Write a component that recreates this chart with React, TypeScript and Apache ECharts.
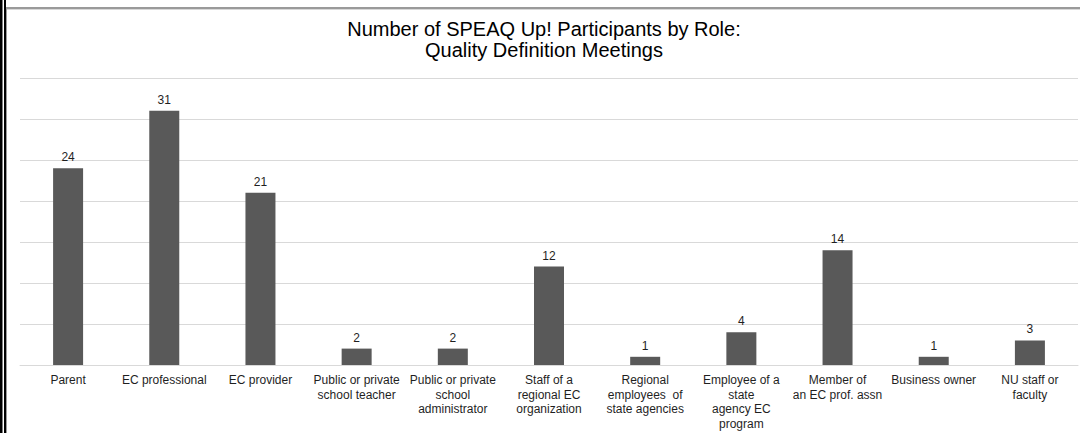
import React, { useEffect, useRef } from "react";
import * as echarts from "echarts";

const titleText = "Number of SPEAQ Up! Participants by Role:\nQuality Definition Meetings";
const categories = [
  "Parent",
  "EC professional",
  "EC provider",
  "Public or private\nschool teacher",
  "Public or private\nschool\nadministrator",
  "Staff of a\nregional EC\norganization",
  "Regional\nemployees  of\nstate agencies",
  "Employee of a\nstate\nagency EC\nprogram",
  "Member of\nan EC prof. assn",
  "Business owner",
  "NU staff or\nfaculty",
];
const participants = [24, 31, 21, 2, 2, 12, 1, 4, 14, 1, 3];

export default function App() {
  const ref = useRef<HTMLDivElement>(null);
  useEffect(() => {
    if (!ref.current) return;
    const chart = echarts.init(ref.current, null, { renderer: "svg" });
    chart.setOption({
      animation: false,
      backgroundColor: "#ffffff",
      textStyle: { fontFamily: "Liberation Sans, Arial, sans-serif" },
      title: {
        text: titleText,
        left: 539,
        textAlign: "center",
        top: 13,
        textStyle: {
          fontFamily: "Liberation Sans, Arial, sans-serif",
          fontSize: 20,
          fontWeight: "normal",
          color: "#000000",
          lineHeight: 21.5,
        },
      },
      graphic: [
        { type: "rect", shape: { x: 0, y: 0, width: 2.5, height: 433 }, style: { fill: "#000" } },
        { type: "rect", shape: { x: 4, y: 0, width: 2, height: 433 }, style: { fill: "#000" } },
        { type: "rect", shape: { x: 6, y: 7, width: 1074, height: 2 }, style: { fill: "#9a9a9a" } },
        { type: "rect", shape: { x: 6, y: 9, width: 1074, height: 1 }, style: { fill: "#d8d8d8" } },
        { type: "rect", shape: { x: 6, y: 9, width: 1, height: 424 }, style: { fill: "#9a9a9a" } },
      ],
      grid: { left: 20, right: 2, top: 78, bottom: 68, containLabel: false },
      xAxis: {
        type: "category",
        data: categories,
        axisLine: { show: true, lineStyle: { color: "#d9d9d9", width: 1 } },
        axisTick: { show: false },
        axisLabel: {
          interval: 0,
          color: "#1f1f1f",
          fontSize: 12,
          lineHeight: 14.5,
          margin: 8,
          fontFamily: "Liberation Sans, Arial, sans-serif",
        },
      },
      yAxis: {
        type: "value",
        min: 0,
        max: 35,
        interval: 5,
        axisLabel: { show: false },
        axisLine: { show: false },
        axisTick: { show: false },
        splitLine: { lineStyle: { color: "#d9d9d9", width: 1 } },
      },
      series: [
        {
          type: "bar",
          data: participants,
          barWidth: 30,
          itemStyle: { color: "#595959" },
          label: {
            show: true,
            position: "top",
            distance: 5,
            color: "#1f1f1f",
            fontSize: 12,
            fontFamily: "Liberation Sans, Arial, sans-serif",
          },
        },
      ],
    });
    return () => chart.dispose();
  }, []);
  return (
    <div
      ref={ref}
      style={{ position: "fixed", left: 0, top: 0, width: 1080, height: 433 }}
    />
  );
}
